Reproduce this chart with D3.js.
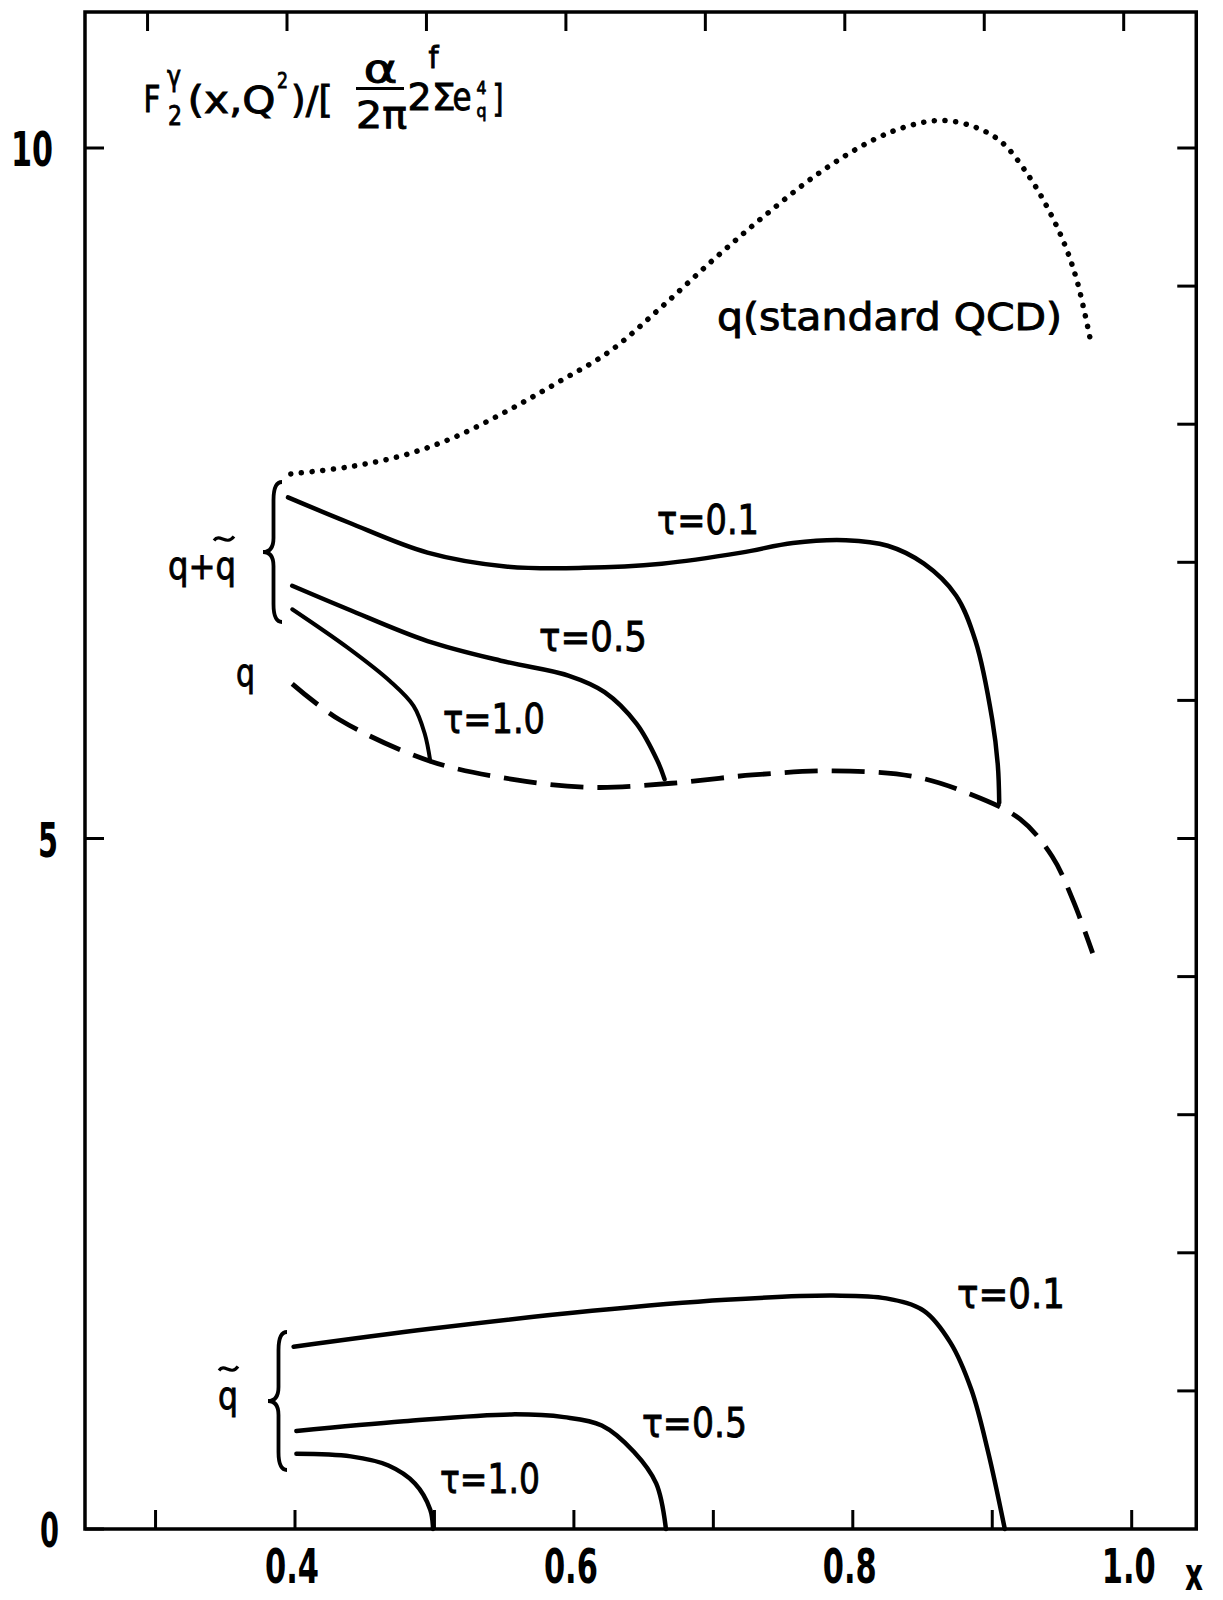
<!DOCTYPE html>
<html>
<head>
<meta charset="utf-8">
<script src="https://cdn.jsdelivr.net/npm/d3@7"></script>
<style>
  html, body { margin: 0; padding: 0; background: #fff; }
  svg text { font-family: "DejaVu Sans", "Liberation Sans", sans-serif; fill: #000; }
</style>
</head>
<body>
<svg id="chart" width="1223" height="1600"></svg>
<script>
// ---------- data ----------
const xTicks = [0.3, 0.4, 0.5, 0.6, 0.7, 0.8, 0.9, 1.0];
const xTickLabels = ["0.4", "0.6", "0.8", "1.0"];
const yTicksRight = [1, 2, 3, 4, 5, 6, 7, 8, 9, 10];
const yTicksLeft = [0, 5, 10];
const yTickLabels = ["0", "5", "10"];

// dotted: q (standard QCD)
const qStandardQCD = [[0.397,7.64],[0.438,7.69],[0.476,7.77],[0.513,7.90],[0.551,8.09],[0.588,8.30],[0.626,8.53],[0.663,8.85],[0.701,9.20],[0.738,9.52],[0.776,9.82],[0.813,10.05],[0.840,10.16],[0.864,10.20],[0.888,10.15],[0.907,10.04],[0.926,9.80],[0.940,9.56],[0.952,9.30],[0.961,9.03],[0.970,8.63]];
// solid: q + q~
const qPlusQtTau01 = [[0.395,7.47],[0.438,7.29],[0.495,7.07],[0.551,6.97],[0.607,6.96],[0.663,6.99],[0.720,7.07],[0.757,7.14],[0.795,7.16],[0.825,7.12],[0.851,6.99],[0.874,6.76],[0.888,6.43],[0.900,5.86],[0.904,5.53],[0.905,5.26]];
const qPlusQtTau05 = [[0.398,6.83],[0.438,6.66],[0.495,6.43],[0.551,6.28],[0.596,6.18],[0.622,6.06],[0.645,5.83],[0.660,5.56],[0.665,5.43]];
const qPlusQtTau10 = [[0.398,6.66],[0.438,6.38],[0.468,6.14],[0.485,5.96],[0.493,5.76],[0.497,5.56]];
// dashed: q
const qOnly = [[0.398,6.12],[0.432,5.86],[0.497,5.56],[0.555,5.43],[0.613,5.37],[0.670,5.40],[0.728,5.46],[0.786,5.49],[0.843,5.45],[0.882,5.33],[0.920,5.14],[0.943,4.87],[0.958,4.55],[0.972,4.17]];
// solid: q~
const qtTau01 = [[0.399,1.32],[0.497,1.45],[0.613,1.58],[0.709,1.66],[0.786,1.69],[0.824,1.67],[0.851,1.58],[0.870,1.35],[0.885,1.01],[0.897,0.56],[0.909,0.0]];
const qtTau05 = [[0.401,0.71],[0.478,0.78],[0.555,0.83],[0.593,0.81],[0.620,0.75],[0.643,0.56],[0.659,0.33],[0.666,0.0]];
const qtTau10 = [[0.401,0.545],[0.440,0.526],[0.467,0.46],[0.486,0.33],[0.497,0.14],[0.499,0.0]];

// ---------- drawing ----------
const svg = d3.select("#chart");
const x = d3.scaleLinear().domain([0.4, 1.0]).range([295, 1131.7]);
const y = d3.scaleLinear().domain([0, 10]).range([1529, 148]);

const xL = x(0.2494), xR = x(1.0463), yB = y(0), yT = 12;

// frame
svg.append("rect").attr("x", xL).attr("y", yT).attr("width", xR - xL).attr("height", yB - yT)
  .attr("fill", "none").attr("stroke", "#000").attr("stroke-width", 3.5);

const tickLen = 19;
const ticks = svg.append("g").attr("stroke", "#000").attr("stroke-width", 3);
ticks.selectAll(".xb").data(xTicks).join("line")
  .attr("x1", d => x(d)).attr("x2", d => x(d)).attr("y1", yB).attr("y2", yB - tickLen);
ticks.selectAll(".xt").data(xTicks).join("line")
  .attr("x1", d => x(d) - 8).attr("x2", d => x(d) - 8).attr("y1", yT).attr("y2", yT + tickLen);
ticks.selectAll(".yr").data(yTicksRight).join("line")
  .attr("x1", xR).attr("x2", xR - tickLen).attr("y1", d => y(d)).attr("y2", d => y(d));
ticks.selectAll(".yl").data(yTicksLeft).join("line")
  .attr("x1", xL).attr("x2", xL + tickLen).attr("y1", d => y(d)).attr("y2", d => y(d));

// text helper
function lbl(txt, xx, yy, size, len, anchor, heavy) {
  const t = svg.append("text").attr("x", xx).attr("y", yy).attr("font-size", size)
    .attr("text-anchor", anchor || "start").text(txt);
  if (len) t.attr("textLength", len).attr("lengthAdjust", "spacingAndGlyphs");
  if (heavy === "bold") t.attr("font-weight", "bold");
  else t.attr("stroke", "#000").attr("stroke-width", 0.9);
  return t;
}
xTickLabels.forEach(s => {
  lbl(s, x(+s) - 3, 1583, 48, 54, "middle", "bold");
});
const yLabelRight = { "0": 59, "5": 58, "10": 53 };
const yLabelLen = { "0": 19, "5": 20, "10": 42 };
yTickLabels.forEach(s => {
  lbl(s, yLabelRight[s], y(+s) + 18, 48, yLabelLen[s], "end", "bold");
});
lbl("x", 1185, 1590, 46, 18, "start", "bold");

// curves
const line = d3.line().x(d => x(d[0])).y(d => y(d[1])).curve(d3.curveCatmullRom.alpha(0.5));
function draw(data, dash, w) {
  const p = svg.append("path").datum(data).attr("d", line).attr("fill", "none")
    .attr("stroke", "#000").attr("stroke-width", w || 4.5);
  if (dash === "dot") p.attr("stroke-dasharray", "0.1 10.6").attr("stroke-linecap", "round").attr("stroke-width", 5.5);
  else if (dash === "dash") p.attr("stroke-dasharray", "33 14").attr("stroke-width", 4.8);
  else p.attr("stroke-linecap", "round");
  return p;
}
draw(qStandardQCD, "dot");
draw(qPlusQtTau01);
draw(qPlusQtTau05);
draw(qPlusQtTau10, null, 4);
draw(qOnly, "dash");
draw(qtTau01);
draw(qtTau05);
draw(qtTau10);

// curve labels
lbl("q(standard QCD)", 717, 330, 37, 345);
lbl("τ=0.1", 657, 534, 41, 102);
lbl("τ=0.5", 539, 651, 41, 108);
lbl("τ=1.0", 443, 733, 41, 102);
lbl("τ=0.1", 957, 1308, 41, 108);
lbl("τ=0.5", 642, 1437, 41, 105);
lbl("τ=1.0", 440, 1493, 41, 100);
lbl("q+q", 168, 579, 37, 68);
lbl("q", 236, 686, 37, 19);
lbl("q", 218, 1409, 37, 20);

function tilde(x0, yc, w) {
  svg.append("path")
    .attr("d", `M${x0},${yc + 2} C${x0 + w * 0.3},${yc - 6} ${x0 + w * 0.6},${yc + 8} ${x0 + w},${yc - 2}`)
    .attr("fill", "none").attr("stroke", "#000").attr("stroke-width", 3.2);
}
tilde(214, 538.5, 20);
tilde(219, 1368.5, 19);

function brace(xTip, xRight, yTop, yBot) {
  const xm = (xTip + xRight) / 2 + 1, ym = (yTop + yBot) / 2;
  const d = `M${xRight},${yTop} Q${xm},${yTop} ${xm},${yTop + 18} L${xm},${ym - 14} Q${xm},${ym} ${xTip},${ym}` +
            ` Q${xm},${ym} ${xm},${ym + 14} L${xm},${yBot - 18} Q${xm},${yBot} ${xRight},${yBot}`;
  svg.append("path").attr("d", d).attr("fill", "none").attr("stroke", "#000").attr("stroke-width", 3.8);
}
brace(263, 282, 482, 622);
brace(268, 287, 1332, 1470);

// title as one text element built from positioned pieces
const title = svg.append("text").attr("stroke", "#000").attr("stroke-width", 0.9);
const pieces = [
  ["F", 143.5, 112, 37, 17],
  ["2", 168, 125, 26, 14],
  ["γ", 167, 86, 29, 14],
  ["(x,Q", 187.5, 113, 37, 88],
  ["2", 277, 88, 22, 11],
  [")/[", 291, 113, 37, 42],
  ["α", 363.6, 82, 37, 34],
  ["2π", 356, 128, 37, 51],
  ["2Σ", 407.6, 110, 37, 48],
  ["f", 428.6, 68, 30, 10],
  ["e", 452.5, 110, 37, 19],
  ["4", 476.5, 94, 18, 10],
  ["q", 476.5, 117, 18, 10],
  ["]", 492.5, 112, 37, 11]
];
pieces.forEach(p => {
  title.append("tspan").attr("x", p[1]).attr("y", p[2]).attr("font-size", p[3])
    .attr("textLength", p[4]).attr("lengthAdjust", "spacingAndGlyphs").text(p[0]);
});
svg.append("line").attr("x1", 356).attr("x2", 404).attr("y1", 88.5).attr("y2", 88.5)
  .attr("stroke", "#000").attr("stroke-width", 2.8);
</script>
</body>
</html>
